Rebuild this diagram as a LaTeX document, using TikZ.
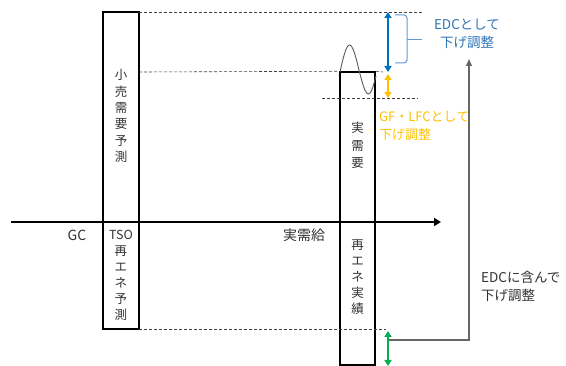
\documentclass[tikz,border=0pt]{standalone}
\usepackage{fontspec}
\setmainfont{Noto Sans CJK JP}
\usetikzlibrary{arrows.meta}
\definecolor{edcblue}{RGB}{0,112,192}
\definecolor{edctext}{RGB}{46,117,182}
\definecolor{bracecol}{RGB}{91,155,213}
\definecolor{gfcol}{RGB}{255,192,0}
\definecolor{greencol}{RGB}{0,176,80}
\definecolor{txtgray}{RGB}{50,50,50}
\tikzset{
  bar/.style={draw=black, line width=1.5pt, minimum width=36pt, inner sep=0pt},
  vtext/.style={align=center, inner sep=0pt, text=txtgray},
  guide/.style={draw=black!75, line width=0.6pt, dash pattern=on 3pt off 2pt},
  dbl/.style={line width=2.5pt, {Triangle[length=6pt,width=7pt]}-{Triangle[length=6pt,width=7pt]}},
  lbl/.style={align=center, inner sep=0pt},
}
\begin{document}
\begin{tikzpicture}[x=1pt,y=-1pt]
\useasboundingbox (0,0) rectangle (566,366);
% boxes
\node[bar, minimum width=36pt, minimum height=317pt] (fc) at (121,170.5) {};
\node[bar, minimum width=35pt, minimum height=293pt] (act) at (357.5,218.5) {};
% axis
\coordinate (ax0) at (11,222);
\coordinate (ax1) at (441,222);
\draw[line width=2.2pt, -{Triangle[length=7pt,width=8pt]}] (ax0) -- (ax1);
% guides
\coordinate (g1a) at (139,12);  \coordinate (g1b) at (423,12);
\coordinate (g2a) at (139,72);  \coordinate (g2b) at (383,72);
\coordinate (g3a) at (322,98);  \coordinate (g3b) at (418,98);
\coordinate (g4a) at (139,329); \coordinate (g4b) at (386,329);
\draw[guide] (g1a) -- (g1b);
\draw[guide] (g2a) -- (act.north west);
\draw[guide] (act.north east) -- (g2b);
\draw[guide] (g3a) -- (g3b);
\draw[guide] (g4a) -- (g4b);
% wave
\draw[black!65, line width=0.9pt] (340,72) sin (349.5,45) cos (359,70) sin (368.5,94) cos (376,76);
% box texts
\node[vtext, font=\fontsize{12.5}{16.4}\selectfont] (t1) at (121,116) {小\\売\\需\\要\\予\\測};
\node[vtext, font=\fontsize{12.5}{16}\selectfont] (t2) at (121,275) {TSO\\再\\エ\\ネ\\予\\測};
\node[vtext, font=\fontsize{12.5}{17.5}\selectfont] (t3) at (357.5,145.5) {実\\需\\要};
\node[vtext, font=\fontsize{12.5}{16}\selectfont] (t4) at (357.5,277) {再\\エ\\ネ\\実\\績};
\node[lbl, text=txtgray, font=\fontsize{14}{16}\selectfont] (gc) at (77,235) {GC};
\node[lbl, text=txtgray, font=\fontsize{14}{16}\selectfont] (jj) at (304,235) {実需給};
% blue arrow and brace
\coordinate (b1) at (388,12); \coordinate (b2) at (388,72);
\draw[dbl, edcblue] (b1) -- (b2);
\coordinate (br0) at (395,15); \coordinate (br1) at (407,15); \coordinate (br2) at (407,40);
\coordinate (br3) at (422,40); \coordinate (br4) at (407,63); \coordinate (br5) at (395,63);
\draw[bracecol, line width=1pt, rounded corners=3pt] (br0) -- (br1) -- (br2) -- (br4) -- (br5);
\draw[bracecol, line width=1pt] (br2) -- (br3);
\node[lbl, text=edctext, font=\fontsize{13.5}{18}\selectfont] (edc) at (467,34) {EDCとして\\下げ調整};
% yellow arrow
\coordinate (y1) at (388,74); \coordinate (y2) at (388,98);
\draw[dbl, gfcol, line width=2.2pt] (y1) -- (y2);
\node[lbl, text=gfcol, font=\fontsize{13}{18}\selectfont, anchor=west, align=left] (gf) at (379,126) {GF・LFCとして\\下げ調整};
% green arrow
\coordinate (gr1) at (388,331); \coordinate (gr2) at (388,366);
\draw[dbl, greencol] (gr1) -- (gr2);
% gray path
\coordinate (p0) at (389,340); \coordinate (p1) at (469,340); \coordinate (p2) at (469,59);
\draw[line width=1.2pt, -{Triangle[length=7pt,width=6pt]}, black!60] (p0) -- (p1) -- (p2);
\node[lbl, text=txtgray, font=\fontsize{13.5}{18}\selectfont, anchor=west, align=left] (edc2) at (481,286) {EDCに含んで\\下げ調整};
\end{tikzpicture}
\end{document}
